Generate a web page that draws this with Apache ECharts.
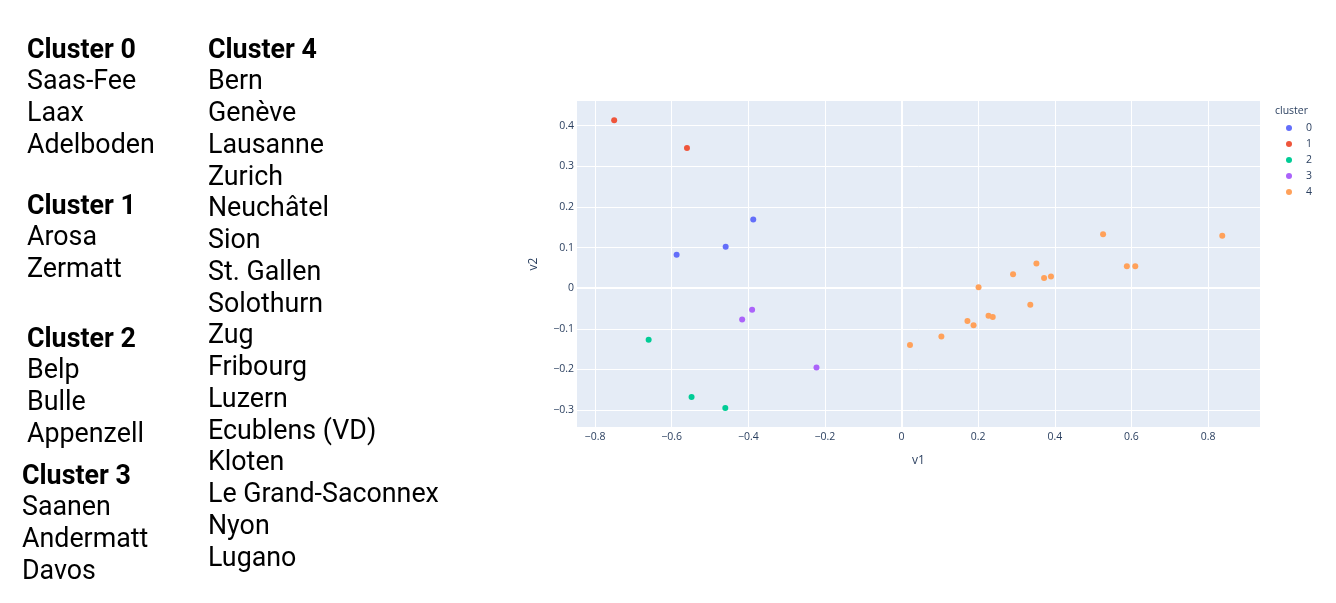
<!DOCTYPE html>
<html>
<head>
<meta charset="utf-8">
<script src="https://cdn.jsdelivr.net/npm/echarts@6/dist/echarts.min.js"></script>
<style>
  html, body { margin: 0; padding: 0; background: #fff; }
  #chart { width: 1336px; height: 603px; }
</style>
</head>
<body>
<div id="chart"></div>
<script>
// ---- data ----
const clusterIds = ['0', '1', '2', '3', '4'];
const cluster0V1 = [-0.587, -0.459, -0.387];
const cluster0V2 = [0.082, 0.102, 0.169];
const cluster1V1 = [-0.750, -0.560];
const cluster1V2 = [0.413, 0.345];
const cluster2V1 = [-0.660, -0.548, -0.460];
const cluster2V2 = [-0.127, -0.268, -0.295];
const cluster3V1 = [-0.416, -0.390, -0.222];
const cluster3V2 = [-0.077, -0.053, -0.195];
const cluster4V1 = [0.022, 0.104, 0.172, 0.188, 0.201, 0.227, 0.238, 0.291, 0.336, 0.352, 0.372, 0.390, 0.526, 0.588, 0.610, 0.837];
const cluster4V2 = [-0.140, -0.119, -0.081, -0.091, 0.002, -0.068, -0.071, 0.034, -0.041, 0.061, 0.025, 0.029, 0.133, 0.054, 0.054, 0.129];
const xTicks = [-0.8, -0.6, -0.4, -0.2, 0, 0.2, 0.4, 0.6, 0.8];
const yTicks = [-0.3, -0.2, -0.1, 0, 0.1, 0.2, 0.3, 0.4];

const headings = ['Cluster 0', 'Cluster 1', 'Cluster 2', 'Cluster 3', 'Cluster 4'];
const cities0 = ['Saas-Fee', 'Laax', 'Adelboden'];
const cities1 = ['Arosa', 'Zermatt'];
const cities2 = ['Belp', 'Bulle', 'Appenzell'];
const cities3 = ['Saanen', 'Andermatt', 'Davos'];
const cities4 = ['Bern', 'Genève', 'Lausanne', 'Zurich', 'Neuchâtel', 'Sion', 'St. Gallen', 'Solothurn', 'Zug', 'Fribourg', 'Luzern', 'Ecublens (VD)', 'Kloten', 'Le Grand-Saconnex', 'Nyon', 'Lugano'];

// ---- layout / style ----
const colors = ['#636efa', '#EF553B', '#00cc96', '#ab63fa', '#FFA15A'];
const seriesX = [cluster0V1, cluster1V1, cluster2V1, cluster3V1, cluster4V1];
const seriesY = [cluster0V2, cluster1V2, cluster2V2, cluster3V2, cluster4V2];
const cityLists = [cities0, cities1, cities2, cities3, cities4];
const blockPos = [[27, 56.7], [27, 212.7], [27, 345.7], [22, 482.7], [208, 56.7]];
const lineStep = 31.75;
const textFont = 'Roboto';
const textSize = 26.8;
const baselineToMiddle = 5.8;
const tickColor = '#2a3f5f';

const graphics = [];
headings.forEach((h, i) => {
  const [bx, by] = blockPos[i];
  graphics.push({
    type: 'text', x: bx, y: by - baselineToMiddle, silent: true,
    style: { text: h, fontFamily: textFont, fontSize: textSize, fontWeight: 'bold', fill: '#000', verticalAlign: 'middle', align: 'left' }
  });
  cityLists[i].forEach((c, k) => {
    graphics.push({
      type: 'text', x: bx, y: by + lineStep * (k + 1) - baselineToMiddle, silent: true,
      style: { text: c, fontFamily: textFont, fontSize: textSize, fontWeight: 'normal', fill: '#000', verticalAlign: 'middle', align: 'left' }
    });
  });
});
graphics.push({
  type: 'text', x: 1275, y: 111, silent: true,
  style: { text: 'cluster', fontFamily: 'Open Sans', fontSize: 10.5, fill: tickColor, verticalAlign: 'middle', align: 'left' }
});

const fmt = v => (v === 0 ? '0' : String(v)).replace('-', '\u2212');

const series = clusterIds.map((id, i) => {
  const s = {
    name: id,
    type: 'scatter',
    symbol: 'circle',
    symbolSize: 6,
    itemStyle: { color: colors[i], opacity: 1 },
    data: seriesX[i].map((x, k) => [x, seriesY[i][k]]),
    z: 3
  };
  if (i === 0) {
    s.markLine = {
      silent: true, symbol: 'none', z: 1,
      label: { show: false },
      lineStyle: { color: '#ffffff', width: 2, type: 'solid' },
      emphasis: { disabled: true },
      data: [{ xAxis: 0 }, { yAxis: 0 }]
    };
  }
  return s;
});

const chart = echarts.init(document.getElementById('chart'), null, { renderer: 'canvas' });
chart.setOption({
  animation: false,
  backgroundColor: '#ffffff',
  textStyle: { fontFamily: 'Open Sans' },
  grid: {
    left: 577, top: 101, width: 683, height: 326,
    show: true, backgroundColor: '#E5ECF6', borderWidth: 0, containLabel: false
  },
  xAxis: {
    type: 'value', min: -0.847, max: 0.9355,
    name: 'v1', nameLocation: 'middle', nameGap: 28,
    nameTextStyle: { color: tickColor, fontSize: 12, fontFamily: 'Open Sans' },
    axisLine: { show: false },
    axisTick: { show: false, customValues: xTicks },
    axisLabel: { customValues: xTicks, formatter: fmt, color: tickColor, fontSize: 10.5, fontFamily: 'Open Sans', margin: 5 },
    splitLine: { show: true, lineStyle: { color: '#ffffff', width: 1 } }
  },
  yAxis: {
    type: 'value', min: -0.3416, max: 0.4606,
    name: 'v2', nameLocation: 'middle', nameGap: 37, nameRotate: 90,
    nameTextStyle: { color: tickColor, fontSize: 12, fontFamily: 'Open Sans' },
    axisLine: { show: false },
    axisTick: { show: false, customValues: yTicks },
    axisLabel: { customValues: yTicks, formatter: fmt, color: tickColor, fontSize: 10.5, fontFamily: 'Open Sans', margin: 3 },
    splitLine: { show: true, lineStyle: { color: '#ffffff', width: 1 } }
  },
  legend: {
    orient: 'vertical', left: 1281, top: 117,
    icon: 'circle', itemWidth: 24, itemHeight: 6, itemGap: 4,
    textStyle: { color: tickColor, fontSize: 10.5, fontFamily: 'Open Sans', lineHeight: 12 },
    data: clusterIds
  },
  graphic: graphics,
  series: series
});
</script>
</body>
</html>
